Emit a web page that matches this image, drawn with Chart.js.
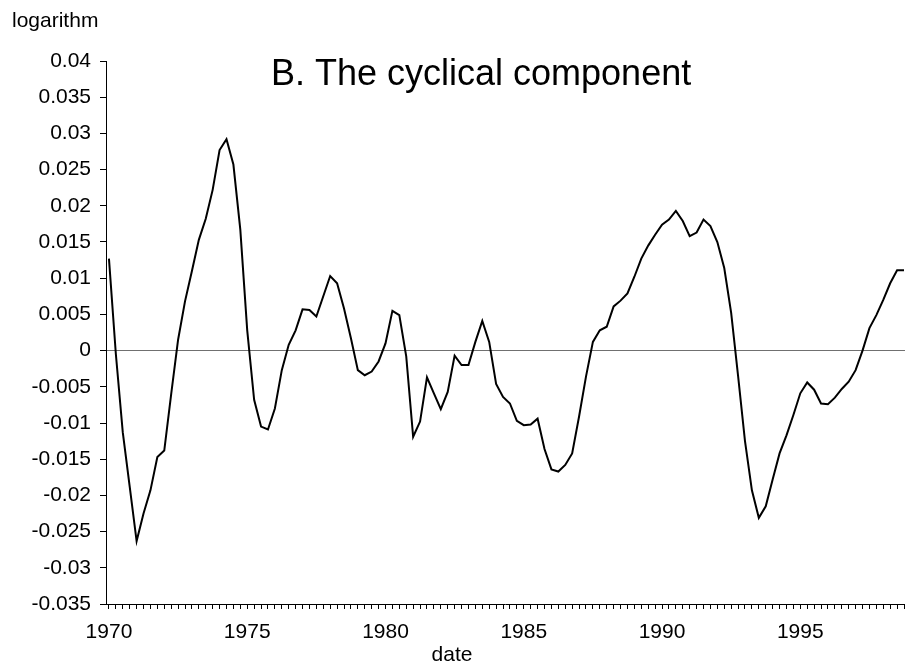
<!DOCTYPE html>
<html>
<head>
<meta charset="utf-8">
<title>B. The cyclical component</title>
<script src="https://cdn.jsdelivr.net/npm/chart.js@4.4.1/dist/chart.umd.min.js"></script>
<style>
  html, body { margin: 0; padding: 0; background: #fff; }
  #wrap { width: 915px; height: 668px; }
</style>
</head>
<body>
<div id="wrap"><canvas id="cycleChart" width="915" height="668"></canvas></div>
<script>
// quarterly series, 1970Q1 .. 1998Q4
const startYear = 1970;
const cycle = [
  0.0127, -0.0005, -0.0113, -0.0188, -0.0263, -0.0225, -0.0193, -0.0147,
  -0.0138, -0.006, 0.0015, 0.0068, 0.011, 0.0153, 0.0182, 0.0222,
  0.0277, 0.0292, 0.0257, 0.0167, 0.0028, -0.0068, -0.0105, -0.0109,
  -0.008, -0.0027, 0.0008, 0.0028, 0.0057, 0.0056, 0.0047, 0.0075,
  0.0103, 0.0093, 0.0058, 0.0017, -0.0027, -0.0034, -0.0029, -0.0015,
  0.001, 0.0055, 0.0049, -0.0008, -0.0119, -0.0098, -0.0037, -0.0059,
  -0.0081, -0.0057, -0.0007, -0.002, -0.002, 0.0012, 0.0041, 0.0012,
  -0.0046, -0.0064, -0.0073, -0.0097, -0.0103, -0.0102, -0.0094, -0.0136,
  -0.0164, -0.0167, -0.0158, -0.0142, -0.0091, -0.0036, 0.0012, 0.0028,
  0.0033, 0.0061, 0.0069, 0.0079, 0.0102, 0.0127, 0.0145, 0.016,
  0.0174, 0.0181, 0.0193, 0.0179, 0.0158, 0.0163, 0.0181, 0.0172,
  0.015, 0.0114, 0.0052, -0.0035, -0.0125, -0.0193, -0.0231, -0.0215,
  -0.0178, -0.0142, -0.0117, -0.0089, -0.0059, -0.0044, -0.0054, -0.0073,
  -0.0074, -0.0065, -0.0053, -0.0043, -0.0027, 0.0, 0.0031, 0.0049,
  0.007, 0.0093, 0.0111, 0.0111
];
const quarters = cycle.map((v, i) => startYear + i / 4);
const yearLabels = [1970, 1975, 1980, 1985, 1990, 1995];
const yMin = -0.035, yMax = 0.04, yStep = 0.005;

const font = 'Liberation Sans, Arial, sans-serif';

// free-standing texts: title inside the plot, unit label, axis name
const textPlugin = {
  id: 'texts',
  afterDraw(chart) {
    const c = chart.ctx;
    c.save();
    c.fillStyle = '#000';
    c.textBaseline = 'alphabetic';
    c.textAlign = 'left';
    c.font = '36px ' + font;
    c.fillText('B. The cyclical component', 271, 85);
    c.font = '21px ' + font;
    c.fillText('logarithm', 12, 27);
    c.textAlign = 'center';
    c.fillText('date', 452, 661);
    c.restore();
  }
};

const ctx = document.getElementById('cycleChart').getContext('2d');
new Chart(ctx, {
  type: 'line',
  data: {
    datasets: [{
      data: cycle.map((v, i) => ({ x: quarters[i], y: v })),
      borderColor: '#000',
      borderWidth: 2,
      pointRadius: 0,
      tension: 0,
      fill: false
    }]
  },
  options: {
    responsive: false,
    animation: false,
    devicePixelRatio: 1,
    layout: { padding: { top: 61, left: 0, right: 0, bottom: 0 } },
    plugins: {
      legend: { display: false },
      tooltip: { enabled: false }
    },
    scales: {
      x: {
        type: 'linear',
        min: 1969.893,
        max: 1998.786,
        afterBuildTicks: s => { s.ticks = quarters.map(q => ({ value: q })); },
        afterFit: s => { s.height = 64; },
        border: { display: true, color: '#000', width: 1 },
        grid: {
          drawOnChartArea: false,
          drawTicks: true,
          tickLength: 5,
          tickColor: '#000',
          color: '#000'
        },
        ticks: {
          autoSkip: false,
          maxRotation: 0,
          minRotation: 0,
          padding: 11,
          color: '#000',
          font: { family: font, size: 21 },
          callback: function(value) {
            const y = Math.round(value);
            return (Math.abs(value - y) < 1e-6 && yearLabels.includes(y)) ? String(y) : '';
          }
        }
      },
      y: {
        min: yMin,
        max: yMax,
        afterFit: s => { s.width = 106; },
        border: { display: true, color: '#000', width: 1 },
        grid: {
          drawTicks: true,
          tickLength: 6,
          tickColor: '#000',
          color: c => Math.abs(c.tick.value) < 1e-9 ? '#707070' : 'rgba(0,0,0,0)',
          lineWidth: 1
        },
        ticks: {
          stepSize: yStep,
          padding: 9,
          color: '#000',
          font: { family: font, size: 21 },
          callback: v => String(Number(v.toFixed(4)))
        }
      }
    }
  },
  plugins: [textPlugin]
});
</script>
</body>
</html>
